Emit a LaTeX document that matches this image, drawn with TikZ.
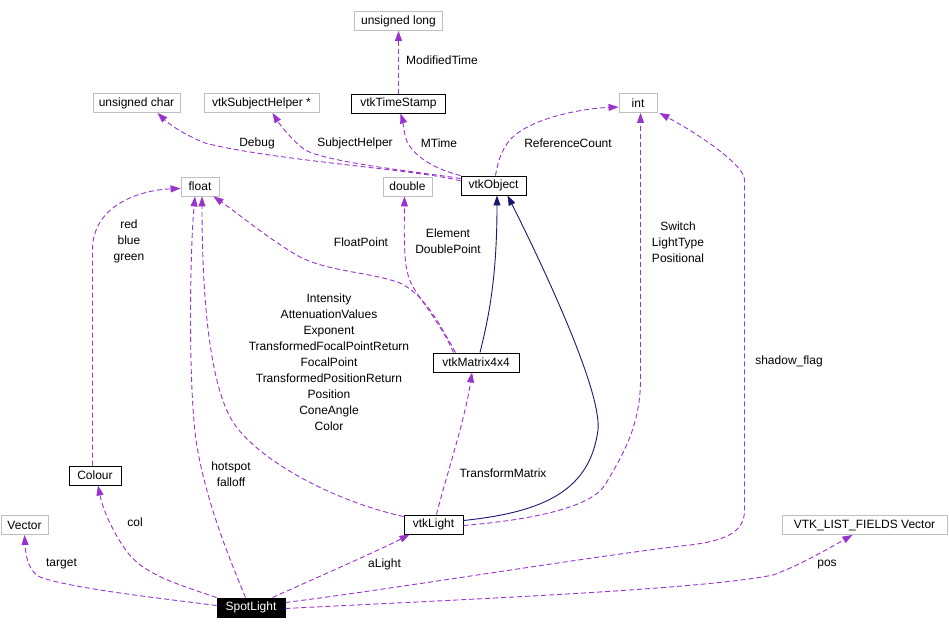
\documentclass[tikz,border=0pt]{standalone}
\usepackage{fontspec}
\setmainfont{Liberation Sans}
\usetikzlibrary{arrows.meta,calc}
\definecolor{depcol}{HTML}{9A32CD}
\definecolor{inhcol}{HTML}{191970}
\definecolor{extgray}{HTML}{BFBFBF}
\begin{document}
\begin{tikzpicture}[x=1pt,y=-1pt,
  every node/.style={font=\fontsize{12}{16}\selectfont, inner sep=0pt},
  cls/.style={draw=black, fill=white, line width=0.9pt, minimum height=19pt},
  ext/.style={draw=extgray, fill=white, line width=0.9pt, minimum height=19pt},
  spotbox/.style={draw=black, fill=black, text=white, line width=0.9pt, minimum height=19pt},
  usage/.style={draw=depcol, line width=0.9pt, dash pattern=on 5pt off 3pt, -{Triangle[length=10pt,width=7pt]}},
  inherit/.style={draw=inhcol, line width=0.9pt, -{Triangle[length=10pt,width=7pt]}},
  lbl/.style={align=center}]
\useasboundingbox (0,0) rectangle (949,629);

% nodes
\node[ext, minimum width=88pt] (ulong) at (398.5,21) {unsigned long};
\node[cls, minimum width=94pt] (tstamp) at (398.5,103.5) {vtkTimeStamp};
\node[ext, minimum width=87pt] (uchar) at (136.5,103) {unsigned char};
\node[ext, minimum width=115pt] (subj) at (261.5,103) {vtkSubjectHelper *};
\node[ext, minimum width=38pt] (int) at (638,103) {int};
\node[ext, minimum width=38pt] (float) at (200,186.5) {float};
\node[ext, minimum width=49pt] (double) at (407.5,186.5) {double};
\node[cls, minimum width=65pt] (obj) at (493.5,185.5) {vtkObject};
\node[cls, minimum width=86pt] (mat) at (476,362.5) {vtkMatrix4x4};
\node[cls, minimum width=52pt] (colour) at (95,475.5) {Colour};
\node[ext, minimum width=47pt] (vector) at (24.5,525) {Vector};
\node[cls, minimum width=59pt] (light) at (433.5,524.5) {vtkLight};
\node[ext, minimum width=165pt] (vlf) at (864.5,525) {VTK\_LIST\_FIELDS Vector};
\node[spotbox, minimum width=68pt] (spot) at (251,607.5) {SpotLight};

% edges
\draw[usage] (tstamp.north) -- (ulong.south);
\draw[usage] (obj.172) .. controls (420,170) and (270,160) .. (205,143) .. controls (185,135) and (170,125) .. ($(uchar.south)+(21,0)$);
\draw[usage] (obj.168) .. controls (420,172) and (330,163) .. (305,150) .. controls (292,140) and (280,125) .. ($(subj.south)+(11,0)$);
\draw[usage] (obj.north west) .. controls (430,168) and (408,152) .. (405,135) .. controls (403,125) and (402,118) .. ($(tstamp.south)+(2,0)$);
\draw[usage] ($(obj.north)+(2,0)$) .. controls (498,160) and (503,145) .. (515,135) .. controls (540,115) and (590,108) .. (int.192);
\draw[usage] ($(mat.north west)+(23,0)$) .. controls (440,325) and (425,295) .. (400,283) .. controls (370,272) and (330,272) .. (300,257) .. controls (270,240) and (240,215) .. ($(float.south east)+(-6,0)$);
\draw[usage] ($(mat.north west)+(21,0)$) .. controls (440,322) and (420,300) .. (412,285) .. controls (404,270) and (404,250) .. ($(double.south)+(-3,0)$);
\draw[inherit] ($(mat.north)+(4,0)$) .. controls (488,320) and (497,280) .. ($(obj.south)+(3.5,0)$);
\draw[inherit] ($(light.east)+(0,-4)$) .. controls (545,512) and (590,490) .. (598,430) .. controls (602,390) and (540,260) .. ($(obj.south)+(14,0)$);
\draw[usage] ($(light.east)+(0,1)$) .. controls (530,520) and (590,508) .. (605,485) .. controls (618,462) and (640.5,430) .. (640.5,380) -- ($(int.south)+(2.5,0)$);
\draw[usage] ($(light.north)+(3,0)$) .. controls (445,480) and (465,420) .. ($(mat.south)+(-4,0)$);
\draw[usage] ($(light.north west)+(0,2)$) .. controls (330,500) and (260,460) .. (235,425) .. controls (210,390) and (202,300) .. ($(float.south)+(2,0)$);
\draw[usage] ($(spot.north west)+(29,0)$) .. controls (230,560) and (205,500) .. (196,440) .. controls (188,380) and (190,250) .. ($(float.south)+(-5,0)$);
\draw[usage] ($(colour.north)+(-2.5,0)$) -- (92.5,250) .. controls (92.5,205) and (140,190) .. ($(float.west)+(0,2)$);
\draw[usage] (spot.north west) .. controls (180,585) and (145,575) .. (128,553) .. controls (113,533) and (103,510) .. ($(colour.south)+(3,0)$);
\draw[usage] ($(spot.west)+(0,-2)$) .. controls (150,597) and (70,588) .. (40,577) .. controls (30,572) and (26,560) .. (vector.south);
\draw[usage] ($(spot.north east)+(-13,0)$) .. controls (300,585) and (380,550) .. ($(light.south west)+(6,0)$);
\draw[usage] ($(spot.east)+(0,-5)$) .. controls (400,588) and (600,555) .. (690,545) .. controls (730,540) and (744.5,530) .. (744.5,510) -- (744.5,180) .. controls (744.5,165) and (700,135) .. ($(int.south east)+(2,0)$);
\draw[usage] ($(spot.east)+(0,1)$) .. controls (450,600) and (700,590) .. (773,575) .. controls (798,566) and (826,550) .. ($(vlf.south)+(-12,0)$);

% labels
\node[lbl] (lmod) at (442,60) {ModifiedTime};
\node[lbl] (ldebug) at (257,143) {Debug};
\node[lbl] (lsubj) at (355,143) {SubjectHelper};
\node[lbl] (lmtime) at (439,143) {MTime};
\node[lbl] (lref) at (568,143) {ReferenceCount};
\node[lbl] (lrgb) at (129,241) {red\\blue\\green};
\node[lbl] (lfp) at (361,242) {FloatPoint};
\node[lbl] (lelem) at (448,241.5) {Element\\DoublePoint};
\node[lbl] (lswitch) at (678,242) {Switch\\LightType\\Positional};
\node[lbl] (lint) at (329,362) {Intensity\\AttenuationValues\\Exponent\\TransformedFocalPointReturn\\FocalPoint\\TransformedPositionReturn\\Position\\ConeAngle\\Color};
\node[lbl] (lshadow) at (789,361) {shadow\_flag};
\node[lbl] (lhot) at (231,474) {hotspot\\falloff};
\node[lbl] (ltm) at (503,473) {TransformMatrix};
\node[lbl] (lcol) at (135,522) {col};
\node[lbl] (ltarget) at (61.5,563.5) {target};
\node[lbl] (lalight) at (384.5,564) {aLight};
\node[lbl] (lpos) at (827,565) {pos};
\end{tikzpicture}
\end{document}
